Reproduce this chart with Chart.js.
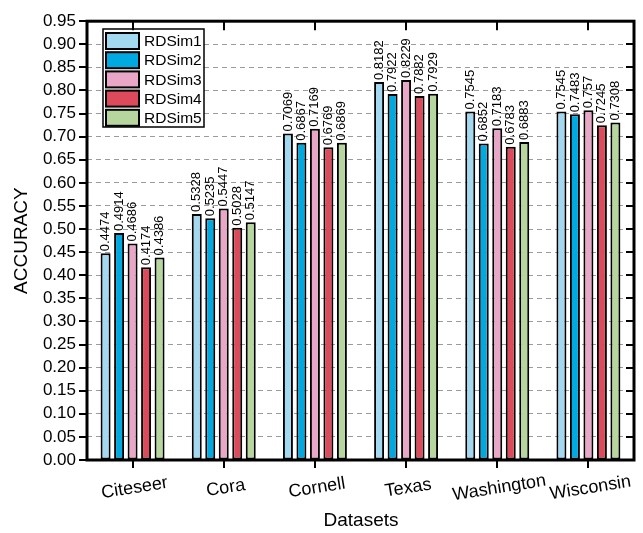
<!DOCTYPE html>
<html>
<head>
<meta charset="utf-8">
<script src="https://cdn.jsdelivr.net/npm/chart.js@4/dist/chart.umd.min.js"></script>
<style>
  html, body { margin: 0; padding: 0; background: #ffffff; }
  #wrap { width: 643px; height: 533px; }
</style>
</head>
<body>
<div id="wrap"><canvas id="accChart" width="643" height="533"></canvas></div>
<script>
// ---- data ----
const CATEGORIES = ['Citeseer', 'Cora', 'Cornell', 'Texas', 'Washington', 'Wisconsin'];
const SERIES_NAMES = ['RDSim1', 'RDSim2', 'RDSim3', 'RDSim4', 'RDSim5'];
const RDSIM1 = [0.4474, 0.5328, 0.7069, 0.8182, 0.7545, 0.7545];
const RDSIM2 = [0.4914, 0.5235, 0.6867, 0.7922, 0.6852, 0.7483];
const RDSIM3 = [0.4686, 0.5447, 0.7169, 0.8229, 0.7183, 0.757];
const RDSIM4 = [0.4174, 0.5028, 0.6769, 0.7882, 0.6783, 0.7245];
const RDSIM5 = [0.4386, 0.5147, 0.6869, 0.7929, 0.6883, 0.7308];
const Y_TICKS = [0.00, 0.05, 0.10, 0.15, 0.20, 0.25, 0.30, 0.35, 0.40, 0.45,
                 0.50, 0.55, 0.60, 0.65, 0.70, 0.75, 0.80, 0.85, 0.90, 0.95];

const COLORS = ['#a3d8f1', '#00a9e0', '#e9a6c6', '#dd4a5b', '#b6d69d'];
const FONT = '"Liberation Sans", Arial, Helvetica, sans-serif';

// ---- frame, ticks, labels, legend ----
const chromePlugin = {
  id: 'chrome',
  afterDatasetsDraw(chart) {
    const ctx = chart.ctx;
    const { left, right, top, bottom } = chart.chartArea;
    const xs = chart.scales.x, ys = chart.scales.y;

    // value labels above each bar
    ctx.save();
    ctx.fillStyle = '#000';
    ctx.font = '13px ' + FONT;
    ctx.textAlign = 'left';
    ctx.textBaseline = 'middle';
    chart.data.datasets.forEach((ds, di) => {
      chart.getDatasetMeta(di).data.forEach((bar, i) => {
        ctx.save();
        ctx.translate(bar.x, bar.y - 2);
        ctx.rotate(-Math.PI / 2);
        ctx.fillText(String(ds.data[i]), 0, 0);
        ctx.restore();
      });
    });
    ctx.restore();

    // legend box
    ctx.save();
    const lx = 103, ly = 29, lw = 101, lh = 98;
    ctx.fillStyle = '#fff';
    ctx.fillRect(lx, ly, lw, lh);
    ctx.strokeStyle = '#000';
    ctx.lineWidth = 1.5;
    ctx.strokeRect(lx, ly, lw, lh);
    ctx.font = '15.5px ' + FONT;
    ctx.textAlign = 'left';
    ctx.textBaseline = 'middle';
    chart.data.datasets.forEach((ds, i) => {
      const cy = 41 + i * 19.2;
      ctx.fillStyle = ds.backgroundColor;
      ctx.fillRect(106, cy - 8, 33, 16);
      ctx.lineWidth = 2;
      ctx.strokeRect(106, cy - 8, 33, 16);
      ctx.fillStyle = '#000';
      ctx.fillText(ds.label, 144, cy + 1);
    });
    ctx.restore();

    // plot frame and tick marks
    ctx.save();
    ctx.strokeStyle = '#000';
    ctx.lineWidth = 2;
    ctx.beginPath();
    Y_TICKS.forEach(v => {
      const y = Math.round(ys.getPixelForValue(v));
      ctx.moveTo(left - 8, y); ctx.lineTo(left, y);
      ctx.moveTo(right - 8, y); ctx.lineTo(right, y);
    });
    CATEGORIES.forEach((c, i) => {
      const x = Math.round(xs.getPixelForTick(i));
      ctx.moveTo(x, bottom); ctx.lineTo(x, bottom + 8);
      ctx.moveTo(x, top); ctx.lineTo(x, top + 9);
    });
    ctx.stroke();
    ctx.lineWidth = 3;
    ctx.strokeRect(left, top, right - left, bottom - top);
    ctx.restore();

    // category labels, slightly tilted
    ctx.save();
    ctx.fillStyle = '#000';
    ctx.font = '18px ' + FONT;
    ctx.textAlign = 'center';
    ctx.textBaseline = 'middle';
    CATEGORIES.forEach((c, i) => {
      ctx.save();
      ctx.translate(xs.getPixelForTick(i) + 2, 488);
      ctx.rotate(-9 * Math.PI / 180);
      ctx.fillText(c, 0, 0);
      ctx.restore();
    });

    // axis titles
    ctx.font = '19px ' + FONT;
    ctx.fillText('Datasets', 361, 521);
    ctx.save();
    ctx.translate(22, (top + bottom) / 2);
    ctx.rotate(-Math.PI / 2);
    ctx.fillText('ACCURACY', 0, 0);
    ctx.restore();
    ctx.restore();
  }
};

const seriesValues = [RDSIM1, RDSIM2, RDSIM3, RDSIM4, RDSIM5];

new Chart(document.getElementById('accChart').getContext('2d'), {
  type: 'bar',
  data: {
    labels: CATEGORIES,
    datasets: SERIES_NAMES.map((name, i) => ({
      label: name,
      data: seriesValues[i],
      backgroundColor: COLORS[i],
      borderColor: '#000',
      borderWidth: 2,
      borderSkipped: false,
      categoryPercentage: 0.74,
      barPercentage: 0.74
    }))
  },
  options: {
    responsive: false,
    animation: false,
    devicePixelRatio: 1,
    layout: { padding: { left: 0, top: 17, right: 9, bottom: 0 } },
    plugins: { legend: { display: false }, tooltip: { enabled: false } },
    scales: {
      x: {
        grid: { display: false },
        border: { display: false },
        ticks: { display: false },
        afterFit: s => { s.height = 73; }
      },
      y: {
        min: 0,
        max: 0.95,
        afterBuildTicks: s => { s.ticks = Y_TICKS.map(v => ({ value: v })); },
        grid: { color: '#9b9b9b', lineWidth: 1, drawTicks: false },
        border: { display: false, dash: [5, 4] },
        ticks: {
          color: '#000',
          padding: 11,
          autoSkip: false,
          font: { family: FONT, size: 17 },
          callback: v => Number(v).toFixed(2)
        },
        afterFit: s => { s.width = 87; }
      }
    }
  },
  plugins: [chromePlugin]
});
</script>
</body>
</html>
